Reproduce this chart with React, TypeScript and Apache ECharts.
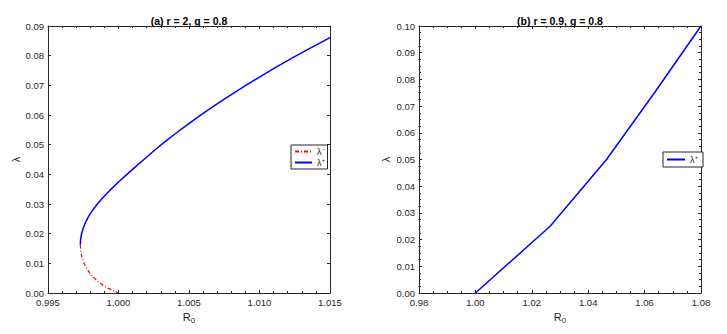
import React, { useEffect, useRef } from "react";
import * as echarts from "echarts";

// Panel (a): r = 2, g = 0.8  (upper branch λ⁺ and lower branch λ⁻)
const aUpperR0 = [0.99729, 0.99731, 0.99738, 0.99751, 0.99768, 0.9979, 0.99818, 0.9985, 0.99897, 0.99947, 1.00002, 1.0006, 1.0012, 1.0018, 1.0026, 1.0033, 1.004, 1.00485, 1.0056, 1.00626, 1.0071, 1.008, 1.009, 1.01, 1.0112, 1.0124, 1.0137, 1.015];
const aUpperLambda = [0.0163, 0.018, 0.02, 0.022, 0.024, 0.026, 0.028, 0.03, 0.0325, 0.035, 0.0375, 0.04, 0.0425, 0.045, 0.0483, 0.051, 0.0536, 0.0566, 0.0592, 0.0614, 0.0641, 0.0669, 0.0699, 0.0728, 0.0762, 0.0794, 0.0828, 0.0861];
const aLowerR0 = [0.99729, 0.99732, 0.99741, 0.99756, 0.99777, 0.99808, 0.9985, 0.9991, 1.0];
const aLowerLambda = [0.0163, 0.014, 0.012, 0.01, 0.008, 0.006, 0.004, 0.002, 0.0];

// Panel (b): r = 0.9, g = 0.8
const bR0 = [1.0, 1.0265, 1.0465, 1.0635, 1.08];
const bLambda = [0.0, 0.025, 0.05, 0.075, 0.1];

const aXTicks = { min: 0.995, max: 1.015, interval: 0.005 };
const aYTicks = { min: 0, max: 0.09, interval: 0.01 };
const bXTicks = { min: 0.98, max: 1.08, interval: 0.02 };
const bYTicks = { min: 0, max: 0.1, interval: 0.01 };

const FONT = "Liberation Sans, Arial, Helvetica, sans-serif";
const AX = "#262626";

const pairs = (xs: number[], ys: number[]) => xs.map((x, i) => [x, ys[i]]);

export default function App() {
  const ref = useRef<HTMLDivElement>(null);
  useEffect(() => {
    if (!ref.current) return;
    const chart = echarts.init(ref.current, undefined, { renderer: "svg" });

    const grids = [
      { left: 48, top: 26, width: 282, height: 267 },
      { left: 419, top: 26, width: 282, height: 267 },
    ];

    const baseAxis = (gridIndex: number, t: any, pos: string, labels: boolean, digits: number, minorSplit: number, name?: string, nameGap?: number) => {
      const isX = pos === "bottom" || pos === "top";
      return {
        type: "value",
        gridIndex,
        position: pos,
        min: t.min,
        max: t.max,
        interval: t.interval,
        name: name,
        nameLocation: "middle",
        nameGap: nameGap,
        nameTextStyle: isX
          ? {
              rich: {
                a: { fontFamily: FONT, fontSize: 11, color: AX },
                b: { fontFamily: FONT, fontSize: 8, color: AX, padding: [7, 0, 0, 0] },
              },
            }
          : { fontFamily: FONT, fontSize: 11, color: AX },
        axisLine: { show: true, onZero: false, lineStyle: { color: AX, width: 1 } },
        axisTick: { show: true, inside: true, length: 3, lineStyle: { color: AX } },
        minorTick: { show: minorSplit > 0, splitNumber: minorSplit || 5, length: 2, lineStyle: { color: AX } },
        splitLine: { show: false },
        axisLabel: {
          show: labels,
          fontFamily: FONT,
          fontSize: 9.5,
          color: AX,
          margin: 4,
          formatter: (v: number) => v.toFixed(digits),
        },
      };
    };

    const xAxis = [
      baseAxis(0, aXTicks, "bottom", true, 3, 5, "{a|R}{b|0}", 12),
      baseAxis(0, aXTicks, "top", false, 3, 5),
      baseAxis(1, bXTicks, "bottom", true, 2, 4, "{a|R}{b|0}", 12),
      baseAxis(1, bXTicks, "top", false, 2, 4),
    ];
    const yAxis = [
      baseAxis(0, aYTicks, "left", true, 2, 0, "λ", 25),
      baseAxis(0, aYTicks, "right", false, 2, 0),
      baseAxis(1, bYTicks, "left", true, 2, 4, "λ", 28),
      baseAxis(1, bYTicks, "right", false, 2, 4),
    ];

    const legendCommon = {
      orient: "vertical",
      itemWidth: 17,
      itemHeight: 8,
      backgroundColor: "#fff",
      borderColor: AX,
      borderWidth: 1,
      borderRadius: 0,
      selectedMode: false,
      itemStyle: { opacity: 0, borderWidth: 0 },
      textStyle: { fontFamily: FONT, fontSize: 9, color: AX },
    };

    chart.setOption({
      animation: false,
      backgroundColor: "#ffffff",
      title: [
        {
          text: "(a) r = 2, g = 0.8",
          left: 189,
          top: 15,
          textAlign: "center",
          padding: 0,
          textStyle: { fontFamily: FONT, fontSize: 10.5, fontWeight: "bold", color: "#000" },
        },
        {
          text: "(b) r = 0.9, g = 0.8",
          left: 560,
          top: 15,
          textAlign: "center",
          padding: 0,
          textStyle: { fontFamily: FONT, fontSize: 10.5, fontWeight: "bold", color: "#000" },
        },
      ],
      legend: [
        {
          ...legendCommon,
          data: ["λ⁻", "λ⁺"],
          left: 291,
          top: 145,
          padding: [2, 3, 2, 3],
          itemGap: 2,
        },
        {
          ...legendCommon,
          data: ["λ⁺ "],
          left: 663,
          top: 152,
          itemWidth: 18,
          padding: [3, 3, 3, 3],
        },
      ],
      grid: grids,
      xAxis,
      yAxis,
      series: [
        {
          name: "λ⁻",
          type: "line",
          xAxisIndex: 0,
          yAxisIndex: 0,
          data: pairs(aLowerR0, aLowerLambda),
          showSymbol: false,
          symbol: "none",
          lineStyle: { color: "#ff0000", width: 1.2, type: [4, 2, 1, 2] },
          itemStyle: { color: "#ff0000" },
        },
        {
          name: "λ⁺",
          type: "line",
          xAxisIndex: 0,
          yAxisIndex: 0,
          data: pairs(aUpperR0, aUpperLambda),
          showSymbol: false,
          symbol: "none",
          lineStyle: { color: "#0000ff", width: 1.5, join: "round" },
          itemStyle: { color: "#0000ff" },
        },
        {
          name: "λ⁺ ",
          type: "line",
          xAxisIndex: 2,
          yAxisIndex: 2,
          data: pairs(bR0, bLambda),
          showSymbol: false,
          symbol: "none",
          lineStyle: { color: "#0000ff", width: 1.5 },
          itemStyle: { color: "#0000ff" },
        },
      ],
    });
    return () => chart.dispose();
  }, []);

  return (
    <div
      ref={ref}
      style={{ position: "absolute", left: 0, top: 0, width: 727, height: 334, background: "#fff" }}
    />
  );
}
